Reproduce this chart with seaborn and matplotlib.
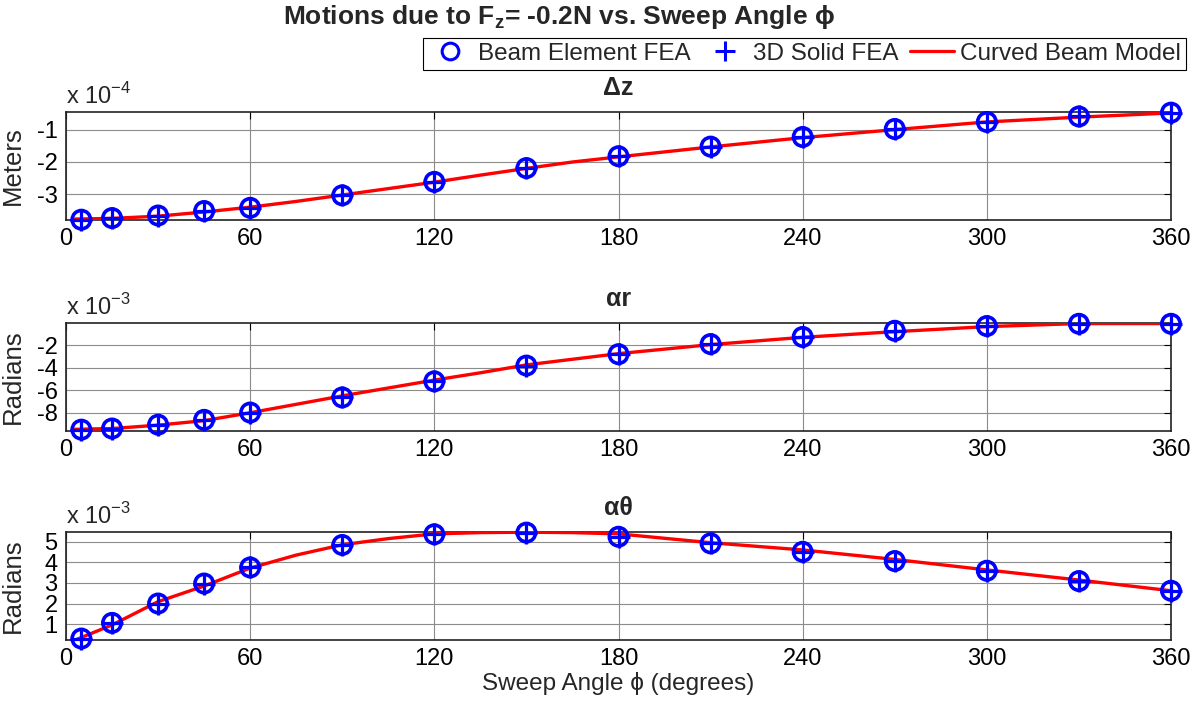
import matplotlib
matplotlib.use("Agg")
import matplotlib.pyplot as plt
from matplotlib.lines import Line2D
import seaborn as sns
import pandas as pd

# ---- data ----
angles = [5, 15, 30, 45, 60, 90, 120, 150, 180, 210, 240, 270, 300, 330, 360]
dz_beam = [-3.80, -3.75, -3.67, -3.53, -3.43, -3.04, -2.62, -2.19, -1.82, -1.52, -1.22, -0.97, -0.75, -0.58, -0.46]
dz_solid = [-3.80, -3.75, -3.67, -3.53, -3.43, -3.04, -2.62, -2.19, -1.82, -1.52, -1.22, -0.97, -0.75, -0.58, -0.46]
ar_beam = [-9.50, -9.40, -9.06, -8.63, -7.98, -6.64, -5.21, -3.81, -2.80, -1.90, -1.27, -0.72, -0.30, -0.10, -0.10]
ar_solid = [-9.50, -9.40, -9.06, -8.63, -7.98, -6.64, -5.21, -3.81, -2.80, -1.90, -1.27, -0.72, -0.30, -0.10, -0.10]
at_beam = [0.30, 1.06, 2.00, 2.97, 3.75, 4.84, 5.36, 5.44, 5.24, 4.92, 4.51, 4.06, 3.59, 3.09, 2.62]
at_solid = [0.30, 1.06, 2.00, 2.97, 3.75, 4.84, 5.36, 5.44, 5.24, 4.92, 4.51, 4.06, 3.59, 3.09, 2.62]

curve_angles = [3, 15, 30, 45, 60, 75, 90, 105, 120, 135, 150, 165, 180, 210, 240, 270, 300, 330, 360]
dz_curve = [-3.78, -3.76, -3.69, -3.56, -3.41, -3.23, -3.03, -2.83, -2.63, -2.41, -2.20, -2.00, -1.84, -1.53, -1.24, -0.99, -0.75, -0.60, -0.47]
ar_curve = [-9.47, -9.40, -9.10, -8.70, -8.00, -7.25, -6.50, -5.80, -5.10, -4.45, -3.75, -3.25, -2.75, -1.95, -1.30, -0.80, -0.35, -0.08, -0.08]
at_curve = [0.23, 0.96, 2.09, 2.85, 3.72, 4.35, 4.85, 5.15, 5.38, 5.44, 5.46, 5.44, 5.38, 4.95, 4.60, 4.14, 3.63, 3.14, 2.62]

xticks = [0, 60, 120, 180, 240, 300, 360]
panel_titles = ["Δz", "αr", "αθ"]
ylabels = ["Meters", "Radians", "Radians"]
exponents = ["-4", "-3", "-3"]
yticks_list = [[-3, -2, -1], [-8, -6, -4, -2], [1, 2, 3, 4, 5]]
ylims = [(-3.81, -0.44), (-9.62, -0.03), (0.23, 5.47)]
legend_labels = ["Beam Element FEA", "3D Solid FEA", "Curved Beam Model"]

sns.set_theme(style="white")
plt.rcParams["font.family"] = ["Liberation Sans", "DejaVu Sans"]
plt.rcParams["mathtext.fontset"] = "custom"
plt.rcParams["mathtext.rm"] = "Liberation Sans"
plt.rcParams["mathtext.bf"] = "Liberation Sans:bold"

W, H = 1204, 704
fig = plt.figure(figsize=(W / 100, H / 100), dpi=100)

left, right = 66, 1171
tops = [112, 323, 532]
hgt = 108

beams = [dz_beam, ar_beam, at_beam]
solids = [dz_solid, ar_solid, at_solid]
curves = [dz_curve, ar_curve, at_curve]

BLUE = "#0000ff"
RED = "#ff0000"
axes = []
for i in range(3):
    ax = fig.add_axes([left / W, 1 - (tops[i] + hgt) / H, (right - left) / W, hgt / H])
    axes.append(ax)
    dfc = pd.DataFrame({"x": curve_angles, "y": curves[i]})
    dfp = pd.DataFrame({"x": angles, "b": beams[i], "s": solids[i]})
    sns.lineplot(data=dfc, x="x", y="y", ax=ax, color=RED, lw=2.4, zorder=3)
    sns.scatterplot(data=dfp, x="x", y="b", ax=ax, marker="o", s=175,
                    facecolors="none", edgecolor=BLUE, linewidth=2.6, zorder=4,
                    clip_on=False)
    sns.scatterplot(data=dfp, x="x", y="s", ax=ax, marker="+", s=260,
                    color=BLUE, linewidth=2.3, zorder=5, clip_on=False)
    ax.set_xlim(0, 360)
    ax.set_ylim(*ylims[i])
    ax.set_xticks(xticks)
    ax.set_yticks(yticks_list[i])
    ax.set_xticklabels([str(t) for t in xticks])
    ax.set_yticklabels([str(t) for t in yticks_list[i]])
    ax.grid(True, color="#8c8c8c", lw=0.8)
    ax.tick_params(direction="in", top=True, right=True, length=5, width=0.8,
                   labelsize=17, pad=6, colors="black")
    for sp in ax.spines.values():
        sp.set_color("#222222")
        sp.set_linewidth(1.2)
    ax.set_xlabel("")
    ax.set_ylabel(ylabels[i], fontsize=18.5)
    ax.yaxis.set_label_coords(-0.037, 0.5)
    ax.text(0.5, 1.22, panel_titles[i], transform=ax.transAxes, ha="center",
            va="center", fontsize=18, fontweight="bold")
    ax.text(0.0, 1.03, r"x 10$^{%s}$" % exponents[i], transform=ax.transAxes,
            ha="left", va="bottom", fontsize=17)

axes[2].set_xlabel("Sweep Angle ϕ (degrees)", fontsize=17.5, labelpad=1)

fig.text(0.464, 1 - 17 / H, r"Motions due to F$_\mathbf{z}$= -0.2N vs. Sweep Angle ϕ",
         ha="center", va="center", fontsize=19, fontweight="bold")

handles = [
    Line2D([], [], marker="o", ls="none", mfc="none", mec=BLUE, mew=2.2, ms=12),
    Line2D([], [], marker="+", ls="none", color=BLUE, mew=2.2, ms=15),
    Line2D([], [], color=RED, lw=2.3),
]
leg = fig.legend(handles, legend_labels, loc="upper right",
                 bbox_to_anchor=(1186 / W, 1 - 38 / H), bbox_transform=fig.transFigure,
                 ncol=3, fontsize=17.5, frameon=True, fancybox=False, framealpha=1,
                 edgecolor="black", borderpad=0.2, columnspacing=0.5,
                 handletextpad=0.25, handlelength=1.8, borderaxespad=0)
leg.get_frame().set_linewidth(0.8)

fig.savefig("out.png", dpi=100)
